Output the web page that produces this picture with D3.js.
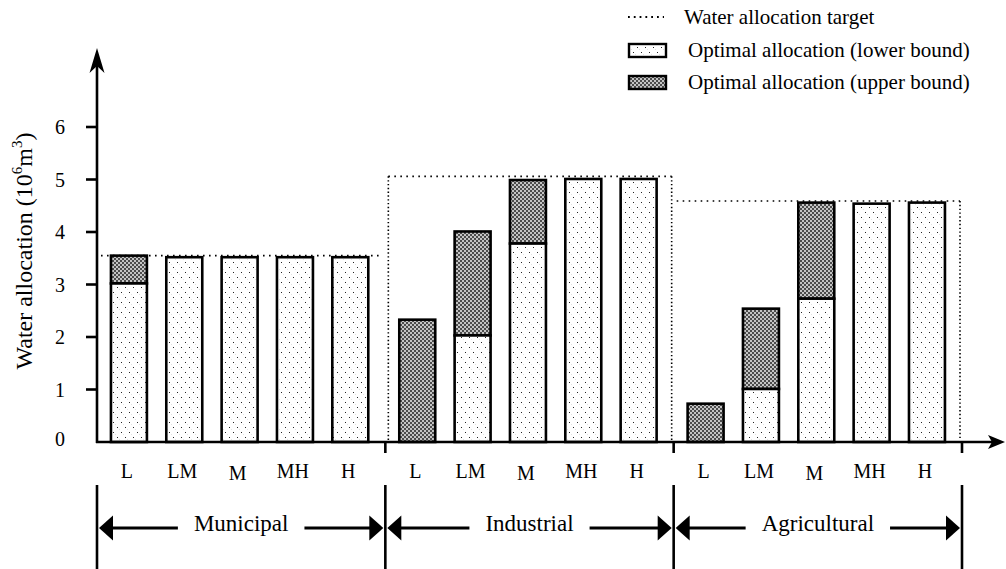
<!DOCTYPE html>
<html>
<head>
<meta charset="utf-8">
<script src="https://cdn.jsdelivr.net/npm/d3@7.9.0/dist/d3.min.js"></script>
<style>
  body { margin: 0; background: #fff; }
  svg { display: block; font-family: "Liberation Serif", "Times New Roman", serif; }
</style>
</head>
<body>
<div id="chart"></div>
<script>
// data
const sectors = ['Municipal', 'Industrial', 'Agricultural'];
const levels = ['L', 'LM', 'M', 'MH', 'H'];
const targets = [3.55, 5.06, 4.59];
const lowerBound = [
    [3.02, 3.52, 3.52, 3.52, 3.52],
    [0, 2.03, 3.78, 5.01, 5.01],
    [0, 1.01, 2.73, 4.54, 4.56]
];
const upperBound = [
    [3.55, 3.52, 3.52, 3.52, 3.52],
    [2.33, 4.01, 4.99, 5.01, 5.01],
    [0.73, 2.54, 4.56, 4.54, 4.56]
];
const yTicks = [0, 1, 2, 3, 4, 5, 6];
const legendLabels = ['Water allocation target', 'Optimal allocation (lower bound)', 'Optimal allocation (upper bound)'];

const width = 1006;
const height = 569;

const svg = d3.select('#chart')
    .append('svg')
    .attr('width', width)
    .attr('height', height);

// patterns for the two bound fills
const defs = svg.append('defs');
const dots = defs.append('pattern')
    .attr('id', 'lowerFill')
    .attr('patternUnits', 'userSpaceOnUse')
    .attr('width', 8).attr('height', 10);
dots.append('rect').attr('width', 8).attr('height', 10).attr('fill', '#fff');
dots.append('rect').attr('x', 1).attr('y', 2).attr('width', 1).attr('height', 1).attr('fill', '#222');
dots.append('rect').attr('x', 5).attr('y', 7).attr('width', 1).attr('height', 1).attr('fill', '#222');
dots.append('rect').attr('x', 3).attr('y', 4).attr('width', 1).attr('height', 1).attr('fill', '#e4e4e4');
dots.append('rect').attr('x', 7).attr('y', 9).attr('width', 1).attr('height', 1).attr('fill', '#e4e4e4');

const checks = defs.append('pattern')
    .attr('id', 'upperFill')
    .attr('patternUnits', 'userSpaceOnUse')
    .attr('width', 4).attr('height', 4);
checks.append('rect').attr('width', 4).attr('height', 4).attr('fill', '#c4c4c4');
checks.append('rect').attr('x', 0).attr('y', 0).attr('width', 2).attr('height', 2).attr('fill', '#4c4c4c');
checks.append('rect').attr('x', 2).attr('y', 2).attr('width', 2).attr('height', 2).attr('fill', '#4c4c4c');

// scales
const yScale = d3.scaleLinear().domain([0, 6]).range([442, 127]);
const groupScale = d3.scaleBand().domain(sectors).range([97, 962]);
const levelScale = d3.scaleBand()
    .domain(levels)
    .range([0, groupScale.bandwidth()])
    .paddingInner(0.35)
    .paddingOuter(0.28)
    .align(0.45);

const axisX = 97;
const axisY = yScale(0);

// target lines (dotted)
const target = svg.append('g')
    .attr('fill', 'none')
    .attr('stroke', '#000')
    .attr('stroke-width', 1.6);

sectors.forEach((s, i) => {
    const x0 = groupScale(s);
    const x1 = x0 + groupScale.bandwidth();
    const ty = yScale(targets[i]);
    target.append('line')
        .attr('x1', i === 0 ? axisX + 4 : x0 + 3).attr('x2', i === 0 ? x1 - 3 : x1 - 2)
        .attr('y1', ty).attr('y2', ty)
        .attr('stroke-dasharray', '1.6,4.4');
    if (i > 0) {
        // industrial gets a dotted line on both sides, agricultural on the right
        const sides = i === 1 ? [x0 + 3, x1 - 2] : [x1 - 2];
        sides.forEach(x => {
            target.append('line')
                .attr('x1', x).attr('x2', x)
                .attr('y1', ty).attr('y2', axisY - 2)
                .attr('stroke-dasharray', '1.4,2.4');
        });
    }
});

// bars
const bars = svg.append('g')
    .attr('stroke', '#000')
    .attr('stroke-width', 2.6);

sectors.forEach((s, i) => {
    levels.forEach((lv, j) => {
        const x = groupScale(s) + levelScale(lv);
        const lo = lowerBound[i][j];
        const hi = upperBound[i][j];
        if (hi > lo) {
            bars.append('rect')
                .attr('x', x).attr('width', levelScale.bandwidth())
                .attr('y', yScale(hi)).attr('height', yScale(lo) - yScale(hi))
                .attr('fill', 'url(#upperFill)');
        }
        if (lo > 0) {
            bars.append('rect')
                .attr('x', x).attr('width', levelScale.bandwidth())
                .attr('y', yScale(lo)).attr('height', yScale(0) - yScale(lo))
                .attr('fill', 'url(#lowerFill)');
        }
    });
});

// axes
const axes = svg.append('g');
axes.append('line')
    .attr('x1', axisX).attr('x2', axisX)
    .attr('y1', axisY + 1).attr('y2', 60)
    .attr('stroke', '#000').attr('stroke-width', 2.6);
axes.append('path')
    .attr('d', `M${axisX},48 L${axisX - 7.5},73 L${axisX},66 L${axisX + 7.5},73 Z`)
    .attr('fill', '#000');
axes.append('line')
    .attr('x1', axisX - 1).attr('x2', 995)
    .attr('y1', axisY).attr('y2', axisY)
    .attr('stroke', '#000').attr('stroke-width', 2.6);
axes.append('path')
    .attr('d', `M1005,${axisY} L988,${axisY - 7} L992,${axisY} L988,${axisY + 7} Z`)
    .attr('fill', '#000');

// y ticks
const yTick = axes.selectAll('.ytick')
    .data(yTicks)
    .join('g')
    .attr('transform', d => `translate(0,${yScale(d)})`);
yTick.filter(d => d > 0).append('line')
    .attr('x1', axisX - 11).attr('x2', axisX)
    .attr('stroke', '#000').attr('stroke-width', 2.6);
yTick.append('text')
    .attr('x', 60).attr('y', d => d === 0 ? 4 : 7)
    .attr('text-anchor', 'middle')
    .attr('font-size', 20)
    .text(d => d);

// x ticks at sector boundaries
const bounds = sectors.map(s => groupScale(s)).slice(1).concat([groupScale.range()[1]]);
axes.selectAll('.xtick')
    .data(bounds)
    .join('line')
    .attr('x1', d => d).attr('x2', d => d)
    .attr('y1', axisY).attr('y2', axisY + 11)
    .attr('stroke', '#000').attr('stroke-width', 2.6);

// y axis title
const yTitle = svg.append('text')
    .attr('transform', 'translate(32,251) rotate(-90)')
    .attr('text-anchor', 'middle')
    .attr('font-size', 24);
yTitle.append('tspan').text('Water allocation (10');
yTitle.append('tspan').attr('font-size', 15).attr('dy', -10).text('6');
yTitle.append('tspan').attr('dy', 10).text('m');
yTitle.append('tspan').attr('font-size', 15).attr('dy', -10).text('3');
yTitle.append('tspan').attr('dy', 10).text(')');

// category labels
sectors.forEach(s => {
    svg.append('g').selectAll('text')
        .data(levels)
        .join('text')
        .attr('x', d => groupScale(s) + levelScale(d) + levelScale.bandwidth() / 2 - 2)
        .attr('y', d => d === 'M' ? 480 : 478)
        .attr('text-anchor', 'middle')
        .attr('font-size', 20)
        .text(d => d);
});

// sector brackets with arrows
const brackets = svg.append('g');
const edges = [groupScale.range()[0]].concat(bounds);
brackets.selectAll('line')
    .data(edges)
    .join('line')
    .attr('x1', d => d).attr('x2', d => d)
    .attr('y1', 485).attr('y2', height)
    .attr('stroke', '#000').attr('stroke-width', 2.6);

const arrowY = 528;
sectors.forEach(s => {
    const x0 = groupScale(s);
    const x1 = x0 + groupScale.bandwidth();
    const cx = (x0 + x1) / 2;
    const label = brackets.append('text')
        .attr('x', cx).attr('y', arrowY + 3)
        .attr('text-anchor', 'middle')
        .attr('font-size', 23)
        .text(s);
    const half = label.node().getComputedTextLength() / 2;
    const gap = 16;
    // left arrow
    brackets.append('line')
        .attr('x1', x0 + 10).attr('x2', cx - half - gap)
        .attr('y1', arrowY).attr('y2', arrowY)
        .attr('stroke', '#000').attr('stroke-width', 3);
    brackets.append('path')
        .attr('d', `M${x0 + 2},${arrowY} L${x0 + 16},${arrowY - 12.5} L${x0 + 16},${arrowY + 12.5} Z`);
    // right arrow
    brackets.append('line')
        .attr('x1', cx + half + gap).attr('x2', x1 - 10)
        .attr('y1', arrowY).attr('y2', arrowY)
        .attr('stroke', '#000').attr('stroke-width', 3);
    brackets.append('path')
        .attr('d', `M${x1 - 2},${arrowY} L${x1 - 16},${arrowY - 12.5} L${x1 - 16},${arrowY + 12.5} Z`);
});

// legend
const legend = svg.append('g').attr('font-size', 21);
const legendRows = [17, 50, 82];
legend.append('line')
    .attr('x1', 628).attr('x2', 664)
    .attr('y1', legendRows[0]).attr('y2', legendRows[0])
    .attr('stroke', '#000').attr('stroke-width', 1.8)
    .attr('stroke-dasharray', '1.8,4');
legend.append('rect')
    .attr('x', 629).attr('y', legendRows[1] - 6).attr('width', 37).attr('height', 13)
    .attr('fill', 'url(#lowerFill)').attr('stroke', '#000').attr('stroke-width', 2.4);
legend.append('rect')
    .attr('x', 629).attr('y', legendRows[2] - 6).attr('width', 37).attr('height', 13)
    .attr('fill', 'url(#upperFill)').attr('stroke', '#000').attr('stroke-width', 2.4);
legend.selectAll('.label')
    .data(legendLabels)
    .join('text')
    .attr('x', (d, i) => i === 0 ? 684 : 688)
    .attr('y', (d, i) => legendRows[i] + 7)
    .text(d => d);
</script>
</body>
</html>
